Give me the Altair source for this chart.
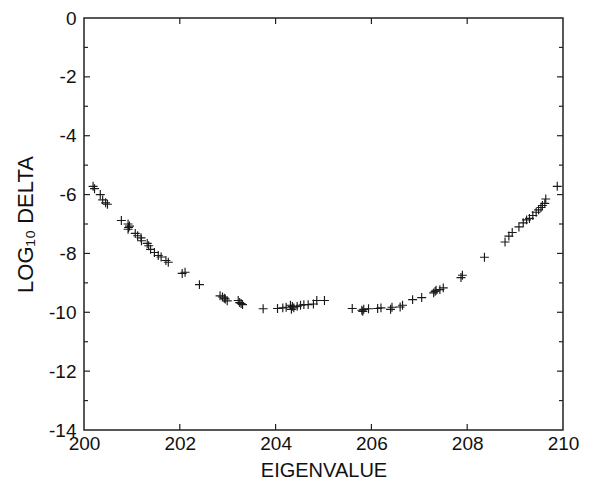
import altair as alt
import pandas as pd

# Eigenvalue (x) and log10 delta (y)
eigenvalue = [
    200.19, 200.22, 200.34, 200.39, 200.45, 200.49,
    200.78, 200.92, 200.93, 200.92, 200.95,
    201.07, 201.12, 201.19, 201.20, 201.32, 201.35, 201.39, 201.47, 201.55, 201.61, 201.71, 201.76,
    202.05, 202.11, 202.41,
    202.84, 202.89, 202.95, 202.99, 202.93,
    203.22, 203.28, 203.31, 203.25,
    203.74,
    204.04, 204.15, 204.22, 204.31, 204.35, 204.38, 204.33, 204.45, 204.52, 204.59, 204.68, 204.79, 204.86, 205.02,
    205.60, 205.80, 205.84, 205.82, 205.94, 206.13, 206.20, 206.43, 206.40, 206.60, 206.65, 206.86, 207.05,
    207.30, 207.33, 207.35, 207.43, 207.50,
    207.87, 207.90,
    208.36,
    208.79, 208.87, 208.94, 209.08, 209.17, 209.24, 209.30, 209.37, 209.44, 209.49, 209.54, 209.57, 209.62, 209.64,
    209.88,
]
log10_delta = [
    -5.72, -5.80, -6.00, -6.18, -6.28, -6.33,
    -6.88, -7.00, -7.12, -7.18, -7.07,
    -7.32, -7.40, -7.47, -7.57, -7.66, -7.74, -7.86, -7.97, -8.07, -8.12, -8.24, -8.30,
    -8.68, -8.64, -9.06,
    -9.44, -9.48, -9.55, -9.61, -9.52,
    -9.60, -9.70, -9.74, -9.67,
    -9.88,
    -9.87, -9.85, -9.83, -9.76, -9.80, -9.85, -9.90, -9.80, -9.76, -9.74, -9.74, -9.72, -9.60, -9.60,
    -9.87, -9.93, -9.90, -9.97, -9.88, -9.87, -9.85, -9.83, -9.90, -9.82, -9.76, -9.57, -9.50,
    -9.34, -9.29, -9.25, -9.23, -9.17,
    -8.82, -8.74,
    -8.13,
    -7.61, -7.41, -7.29, -7.10, -6.96, -6.86, -6.81, -6.71, -6.60, -6.52, -6.44, -6.37, -6.30, -6.15,
    -5.72,
]

x_labels = [200, 202, 204, 206, 208, 210]
y_labels = [0, -2, -4, -6, -8, -10, -12, -14]
x_inner_ticks = [202, 204, 206, 208]
y_major_ticks = [-2, -4, -6, -8, -10, -12]
y_minor_ticks = [-1, -3, -5, -7, -9, -11, -13]

W, H = 479, 412
FONT = "Liberation Sans"

pts = pd.DataFrame({"x": eigenvalue, "y": log10_delta})
xs = alt.Scale(domain=[200, 210], nice=False, zero=False)
ys = alt.Scale(domain=[-14, 0], nice=False, zero=False)

plus = "M-1,0L1,0M0,-1L0,1"

points = alt.Chart(pts).mark_point(
    shape=plus, size=80, filled=False, stroke="#1a1a1a", strokeWidth=1.15, opacity=1
).encode(
    x=alt.X("x:Q", scale=xs, axis=alt.Axis(
        values=x_labels, title="EIGENVALUE", labelExpr="'' + datum.value",
        labelFlush=False, labelPadding=4, titlePadding=7)),
    y=alt.Y("y:Q", scale=ys, axis=alt.Axis(
        values=y_labels, title="LOG₁₀ DELTA", labelExpr="'' + datum.value",
        labelFlush=False, labelPadding=8, titlePadding=11, titleFontSize=22)),
)

xt = pd.DataFrame({"x": x_inner_ticks})
ymj = pd.DataFrame({"y": y_major_ticks})
ymn = pd.DataFrame({"y": y_minor_ticks})

tick_style = dict(color="#222222", strokeWidth=1.2)
xb = alt.Chart(xt).mark_rule(**tick_style).encode(
    x=alt.X("x:Q", scale=xs), y=alt.value(H), y2=alt.value(H - 6))
xtop = alt.Chart(xt).mark_rule(**tick_style).encode(
    x=alt.X("x:Q", scale=xs), y=alt.value(0), y2=alt.value(6))
yl_mj = alt.Chart(ymj).mark_rule(**tick_style).encode(
    y=alt.Y("y:Q", scale=ys), x=alt.value(0), x2=alt.value(6))
yr_mj = alt.Chart(ymj).mark_rule(**tick_style).encode(
    y=alt.Y("y:Q", scale=ys), x=alt.value(W), x2=alt.value(W - 6))
yl_mn = alt.Chart(ymn).mark_rule(**tick_style).encode(
    y=alt.Y("y:Q", scale=ys), x=alt.value(0), x2=alt.value(4))
yr_mn = alt.Chart(ymn).mark_rule(**tick_style).encode(
    y=alt.Y("y:Q", scale=ys), x=alt.value(W), x2=alt.value(W - 4))

chart = alt.layer(points, xb, xtop, yl_mj, yr_mj, yl_mn, yr_mn).properties(
    width=W, height=H,
    autosize=alt.AutoSizeParams(type="none"),
    padding={"left": 76, "top": 10, "right": 20, "bottom": 49},
    background="white",
).configure_view(
    stroke="#222222", strokeWidth=1.5
).configure_axis(
    domain=False, ticks=False, grid=False,
    labelFont=FONT, labelFontSize=19, labelColor="#111111",
    titleFont=FONT, titleFontSize=20, titleColor="#111111", titleFontWeight="normal",
)

chart.save("out.html", embed_options={"renderer": "svg", "actions": False})
